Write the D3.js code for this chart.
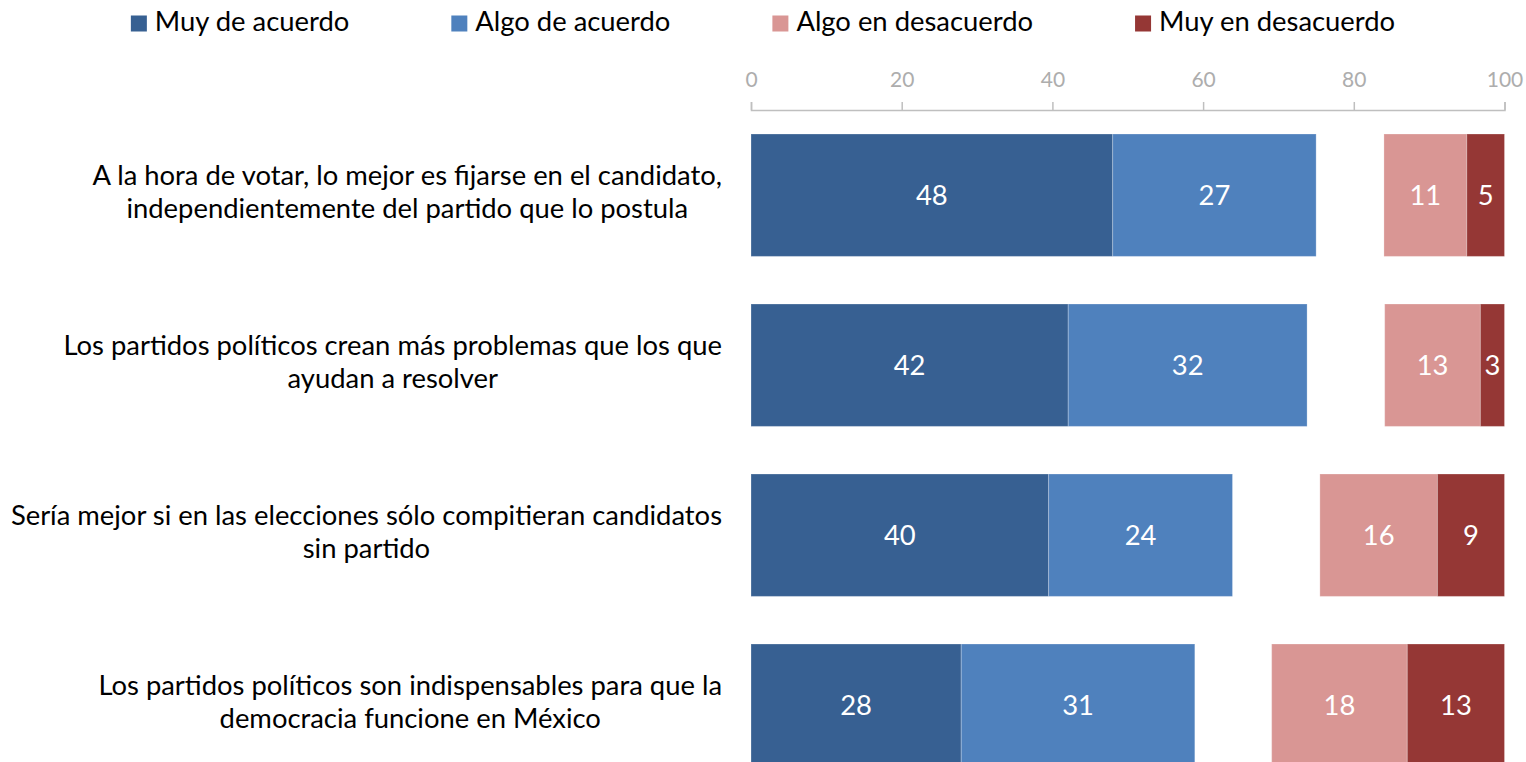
<!DOCTYPE html>
<html lang="es">
<head>
<meta charset="utf-8">
<script src="https://d3js.org/d3.v7.min.js"></script>
<style>
  html, body { margin: 0; padding: 0; background: #fff; overflow: hidden; }
  svg { display: block; font-family: Lato, "Open Sans", sans-serif; }
</style>
</head>
<body>
<script>
// categorias (saltos de linea como en el original)
const categories = [
  "A la hora de votar, lo mejor es fijarse en el candidato,\nindependientemente del partido que lo postula",
  "Los partidos políticos crean más problemas que los que\nayudan a resolver",
  "Sería mejor si en las elecciones sólo compitieran candidatos\nsin partido",
  "Los partidos políticos son indispensables para que la\ndemocracia funcione en México"
];

const seriesNames = ["Muy de acuerdo", "Algo de acuerdo", "Algo en desacuerdo", "Muy en desacuerdo"];
const muyAcuerdo      = [48.0, 42.1, 39.5, 27.9];
const algoAcuerdo     = [27.0, 31.7, 24.4, 31.0];
const algoDesacuerdo  = [11.0, 12.7, 15.6, 18.0];
const muyDesacuerdo   = [5.0, 3.2, 8.9, 12.9];
const tickValues = [0, 20, 40, 60, 80, 100];

const colors = ["#376092", "#4F81BD", "#D99694", "#953735"];

var width = 1526, height = 762;
var fontSize = 27.4;

var svg = d3.select("body").append("svg")
  .attr("width", width)
  .attr("height", height);

var x = d3.scaleLinear().domain([0, 100]).range([751, 1504.5]);
var y = d3.scaleBand()
  .domain(d3.range(categories.length))
  .range([134, 766.4])
  .paddingInner(0.28)
  .paddingOuter(0);

// axis on top
var axis = svg.append("g")
  .attr("transform", "translate(0,110)")
  .call(d3.axisTop(x).tickValues(tickValues).tickSize(8).tickSizeOuter(8).tickPadding(15));
axis.select(".domain").attr("stroke", "#BFBFBF").attr("stroke-width", 1.5);
axis.selectAll(".tick line").attr("stroke", "#BFBFBF").attr("stroke-width", 1.5);
axis.selectAll(".tick text")
  .attr("fill", "#ADADAD")
  .style("font-size", "21px")
  .style("font-family", "Lato, sans-serif");

// build segments: agree from 0, disagree anchored at 100
var segments = [];
categories.forEach(function(c, i){
  var vals = [muyAcuerdo[i], algoAcuerdo[i], algoDesacuerdo[i], muyDesacuerdo[i]];
  var dStart = 100 - vals[2] - vals[3];
  var starts = [0, vals[0], dStart, dStart + vals[2]];
  vals.forEach(function(v, s){
    segments.push({row: i, series: s, x0: starts[s], x1: starts[s] + v, value: v});
  });
});

var bars = svg.append("g");
bars.selectAll("rect")
  .data(segments)
  .enter()
  .append("rect")
  .attr("x", function(d){ return x(d.x0); })
  .attr("width", function(d){ return x(d.x1) - x(d.x0); })
  .attr("y", function(d){ return y(d.row); })
  .attr("height", y.bandwidth())
  .attr("fill", function(d){ return colors[d.series]; })
  .attr("stroke", "#fff")
  .attr("stroke-opacity", 0.25)
  .attr("stroke-width", 1);

bars.selectAll("text")
  .data(segments)
  .enter()
  .append("text")
  .attr("x", function(d){ return (x(d.x0) + x(d.x1)) / 2; })
  .attr("y", function(d){ return y(d.row) + y.bandwidth() / 2; })
  .attr("dy", "0.36em")
  .attr("text-anchor", "middle")
  .attr("fill", "#fff")
  .style("font-size", fontSize + "px")
  .text(function(d){ return Math.round(d.value); });

// category labels: centred lines, block right aligned
var labelRight = 722;
var labels = svg.append("g");
categories.forEach(function(c, i){
  var lines = c.split("\n");
  var t = labels.append("text")
    .attr("text-anchor", "middle")
    .attr("fill", "#000")
    .style("font-size", fontSize + "px");
  var cy = y(i) + y.bandwidth() / 2;
  lines.forEach(function(l, k){
    t.append("tspan")
      .attr("y", cy - 10.7 + k * 33)
      .text(l);
  });
  var w = d3.max(t.selectAll("tspan").nodes(), function(n){ return n.getComputedTextLength(); });
  t.selectAll("tspan").attr("x", labelRight - w / 2);
});

// legend, centred
var legend = svg.append("g");
var items = legend.selectAll("g")
  .data(seriesNames)
  .enter()
  .append("g");
items.append("rect")
  .attr("width", 16).attr("height", 16)
  .attr("y", 15.5)
  .attr("fill", function(d, i){ return colors[i]; });
items.append("text")
  .attr("x", 24)
  .attr("y", 31)
  .attr("fill", "#000")
  .style("font-size", fontSize + "px")
  .text(function(d){ return d; });

var gap = 102, pos = 0, offsets = [];
items.each(function(){
  offsets.push(pos);
  pos += 24 + d3.select(this).select("text").node().getComputedTextLength() + gap;
});
var total = pos - gap;
var start = (width - total) / 2;
items.attr("transform", function(d, i){ return "translate(" + (start + offsets[i]) + ",0)"; });
</script>
</body>
</html>
